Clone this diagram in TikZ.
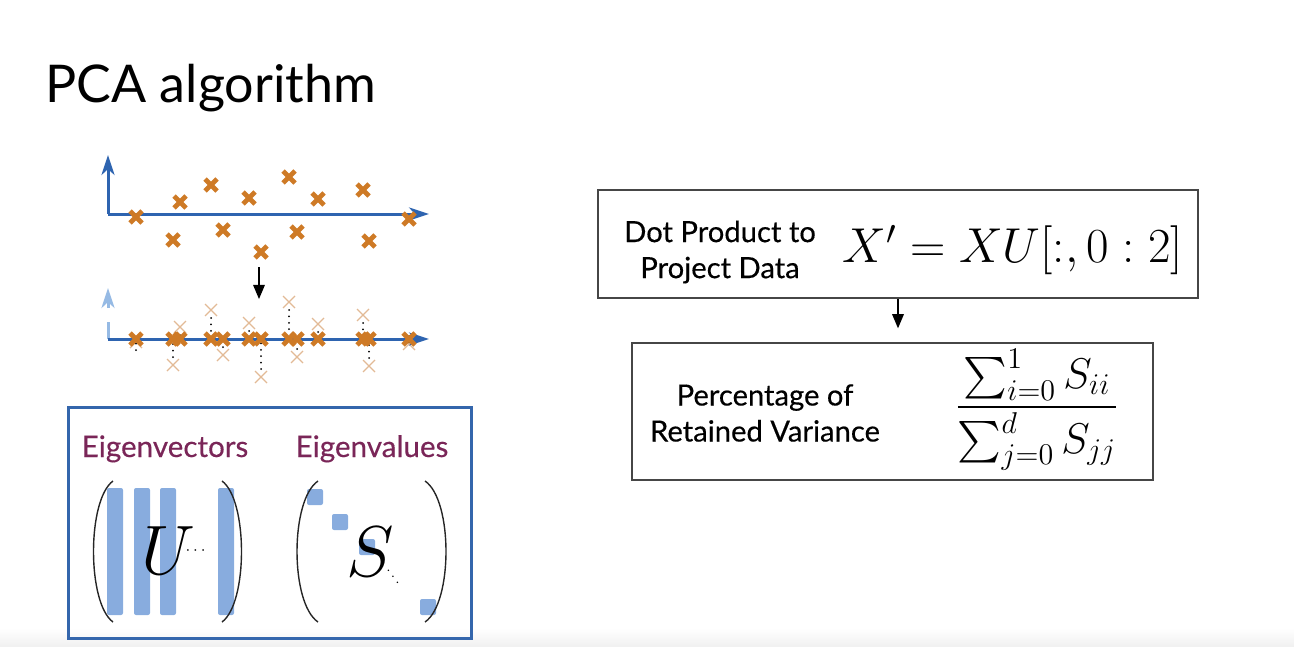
\RequirePackage{fix-cm}
\documentclass[tikz,border=0pt]{standalone}
\usepackage[no-math]{fontspec}
\setmainfont{Lato}
\newfontfamily\boxfont{Lato}[FakeBold=0.35]
\usepackage{amsmath}
\usetikzlibrary{arrows,arrows.meta,positioning}

\definecolor{axisblue}{RGB}{46,100,176}
\definecolor{paleaxis}{RGB}{150,186,228}
\definecolor{ptorange}{RGB}{206,122,38}
\definecolor{ghost}{RGB}{226,186,150}
\definecolor{barblue}{RGB}{136,172,222}
\definecolor{eigen}{RGB}{122,38,88}
\definecolor{frameblue}{RGB}{52,102,172}
\definecolor{boxgray}{RGB}{70,70,70}

\newcommand{\crossat}[3]{\draw[#1] ({#2},{#3}) ++(-6,-6) -- ++(12,12) ++(-12,0) -- ++(12,-12);}

\begin{document}
\begin{tikzpicture}[x=0.5pt,y=-0.5pt,>=triangle 45,
	axisline/.style={-{Stealth[length=10pt,width=6.5pt,inset=3pt]},line width=1.5pt,axisblue},
	pt/.style={ptorange,line width=2.4pt},
	ghostpt/.style={ghost,line width=0.6pt},
	drop/.style={line width=1pt,line cap=round,dash pattern=on 0pt off 3.2pt},
	formbox/.style={draw=boxgray,line width=0.75pt,inner sep=0pt},
	boxtext/.style={align=center,font=\boxfont\fontsize{14.6}{18}\selectfont},
	eiglabel/.style={anchor=base,eigen,font=\boxfont\fontsize{14.8}{17}\selectfont},
	paren/.style={line width=0.7pt,black!85},
	bar/.style={fill=barblue,rounded corners=1pt}]

	\useasboundingbox (0,0) rectangle (1294,647);
	\shade[top color=white,bottom color=black!6] (0,628) rectangle (1294,647);

	\node [anchor=base west,inner sep=0pt,font=\fontsize{26}{30}\selectfont] (title) at (45,103) {PCA algorithm};

	% original data
	\coordinate (o1) at (108,214);
	\coordinate (y1) at (108,155);
	\coordinate (x1) at (429,214);
	\draw[axisline] (o1) -- (y1);
	\draw[axisline] (o1) -- (x1);
	\foreach \px/\py in {136/217,180/202,173/240,211/185,223/230,249/198,261/252,289/177,297/232,318/199,363/190,369/241,409/219}
		{\crossat{pt}{\px}{\py}}

	\coordinate (down1) at (259,267);
	\coordinate (down2) at (259,299);
	\draw[->,semithick] (down1) -- (down2);

	% projected data
	\coordinate (o2) at (108,339);
	\coordinate (gap1) at (108,322);
	\coordinate (gap2) at (108,308);
	\coordinate (y2) at (108,288);
	\coordinate (x2) at (429,339);
	\foreach \px/\py in {136/217,180/202,173/240,211/185,223/230,249/198,261/252,289/177,297/232,318/199,363/190,369/241,409/219}
		{\crossat{ghostpt}{\px}{\py+125}
		 \draw[drop,shorten <=4pt,shorten >=2pt] (\px,\py+125) -- (\px,339);}
	\draw[line width=1.5pt,paleaxis] (o2) -- (gap1);
	\draw[axisline,paleaxis] (gap2) -- (y2);
	\draw[axisline] (o2) -- (x2);
	\foreach \px/\py in {136/217,180/202,173/240,211/185,223/230,249/198,261/252,289/177,297/232,318/199,363/190,369/241,409/219}
		{\crossat{pt}{\px}{339}}

	% eigen box
	\draw[frameblue,line width=1.5pt] (68,407) rectangle (471,638);
	\node [eiglabel] (evec) at (165,457) {Eigenvectors};
	\node [eiglabel] (eval) at (372,457) {Eigenvalues};

	\foreach \bx in {115,142,168,226}
		\fill[bar] (\bx-8,488) rectangle (\bx+8,615);
	\draw[paren] (113,481) .. controls (87,500) and (87,603) .. (113,622);
	\draw[paren] (222,481) .. controls (248,500) and (248,603) .. (222,622);
	\node [font=\fontsize{35}{40}\selectfont] (Umat) at (168,551) {$U$};
	\node [font=\fontsize{8}{9}\selectfont] (udots) at (197,551) {$\cdots$};

	\foreach \sx/\sy in {315/497,340/522,367/547,428/607}
		\fill[bar] (\sx-8,\sy-8) rectangle (\sx+8,\sy+8);
	\draw[paren] (318,481) .. controls (290,500) and (290,603) .. (318,622);
	\draw[paren] (425,481) .. controls (453,500) and (453,603) .. (425,622);
	\node [font=\fontsize{36}{40}\selectfont] (Smat) at (370,552) {$S$};
	\node [font=\fontsize{6}{7}\selectfont] (sdots) at (393,571) {$\ddots$};

	% formulas
	\node [formbox,minimum width=300pt,minimum height=54pt] (proj) at (898,244) {};
	\node [boxtext] (projtext) at (720,252) {Dot Product to\\Project Data};
	\node [anchor=base,font=\fontsize{24.5}{28}\selectfont] (projeq) at (1013,262) {$X' = XU[:,0:2]$};

	\node [formbox,minimum width=260.5pt,minimum height=68.5pt] (var) at (892.5,411.5) {};
	\node [boxtext] (vartext) at (765,413) {Percentage of\\Retained Variance};
	\node [font=\fontsize{21.5}{25}\selectfont] (vareq) at (1037,410) {$\dfrac{\sum_{i=0}^{1} S_{ii}}{\sum_{j=0}^{d} S_{jj}}$};

	\draw[->,semithick,shorten >=7pt] (proj.south) -- (proj.south |- var.north);
\end{tikzpicture}
\end{document}
